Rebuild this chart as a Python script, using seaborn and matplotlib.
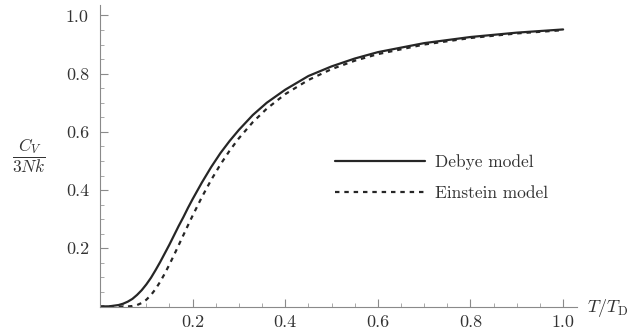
import matplotlib
matplotlib.use("Agg")
import matplotlib.pyplot as plt
from matplotlib.ticker import FixedLocator, MultipleLocator
import numpy as np
import pandas as pd
import seaborn as sns

# ---- data ----
T_ratio = [0.00, 0.02, 0.04, 0.05, 0.06, 0.07, 0.08, 0.09, 0.10, 0.11, 0.12,
           0.13, 0.14, 0.15, 0.16, 0.17, 0.18, 0.19, 0.20, 0.22, 0.24, 0.26,
           0.28, 0.30, 0.33, 0.36, 0.40, 0.45, 0.50, 0.55, 0.60, 0.70, 0.80,
           0.90, 1.00]
debye = [0.0, 0.0006, 0.0050, 0.0097, 0.0167, 0.0262, 0.0398, 0.0560, 0.0758,
         0.0985, 0.125, 0.153, 0.183, 0.213, 0.245, 0.277, 0.307, 0.339, 0.369,
         0.426, 0.479, 0.527, 0.569, 0.607, 0.658, 0.700, 0.745, 0.792, 0.825,
         0.852, 0.874, 0.905, 0.926, 0.941, 0.952]
einstein = [0.0, 0.0, 0.0, 0.00003, 0.0003, 0.0016, 0.0050, 0.0119, 0.0232,
            0.0393, 0.0601, 0.0851, 0.1136, 0.1446, 0.1774, 0.2111, 0.2451,
            0.2791, 0.3123, 0.3760, 0.4347, 0.4879, 0.5357, 0.5783, 0.6335,
            0.6796, 0.7298, 0.7783, 0.8157, 0.8445, 0.8672, 0.9002, 0.9226,
            0.9383, 0.9495]
models = ["Debye model", "Einstein model"]
tick_values = [0.2, 0.4, 0.6, 0.8, 1.0]
tick_labels = ["0.2", "0.4", "0.6", "0.8", "1.0"]

df = pd.DataFrame({
    "T": T_ratio + T_ratio,
    "C": debye + einstein,
    "model": [models[0]] * len(T_ratio) + [models[1]] * len(T_ratio),
})

sns.set_style("white")
plt.rcParams["mathtext.fontset"] = "cm"
plt.rcParams["font.family"] = ["cmr10", "DejaVu Serif"]
plt.rcParams["axes.formatter.use_mathtext"] = True

W, H = 632, 331
fig = plt.figure(figsize=(W / 100, H / 100), dpi=100)
ax = fig.add_axes([100 / W, (H - 306.5) / H, 477 / W, 301.5 / H])

line_col = "#262626"
sns.lineplot(data=df, x="T", y="C", hue="model", style="model",
             palette={models[0]: line_col, models[1]: line_col},
             dashes={models[0]: "", models[1]: (2.0, 2.2)},
             linewidth=1.6, estimator=None, ax=ax)

ax.set_xlim(0, 1.03)
ax.set_ylim(0, 1.036)
ax.set_xlabel("")
ax.set_ylabel("")

for s in ["top", "right"]:
    ax.spines[s].set_visible(False)
for s in ["left", "bottom"]:
    ax.spines[s].set_color("#8a8a8a")
    ax.spines[s].set_linewidth(0.8)

ax.xaxis.set_major_locator(FixedLocator(tick_values))
ax.yaxis.set_major_locator(FixedLocator(tick_values))
ax.set_xticklabels(tick_labels)
ax.set_yticklabels(tick_labels)
ax.xaxis.set_minor_locator(MultipleLocator(0.05))
ax.yaxis.set_minor_locator(MultipleLocator(0.05))
ax.tick_params(which="major", direction="in", length=6, width=0.8,
               color="#8a8a8a", labelsize=13, labelcolor="#333333")
ax.tick_params(axis="x", which="major", pad=6)
ax.tick_params(axis="y", which="major", pad=8)
ax.tick_params(which="minor", direction="in", length=3, width=0.6,
               color="#9a9a9a")
ax.tick_params(bottom=True, left=True, which="both")

leg = ax.legend(frameon=False, loc="upper left",
                bbox_to_anchor=(335 / W, 1 - 154 / H),
                bbox_transform=fig.transFigure,
                borderpad=0, borderaxespad=0, handlelength=5.2,
                handletextpad=0.55, labelspacing=0.9,
                prop={"family": "cmr10", "size": 12.5})
for t in leg.get_texts():
    t.set_color("#333333")

fig.text(28.5 / W, 1 - 156 / H, r"$\dfrac{C_V}{3Nk}$", ha="center",
         va="center", fontsize=12.5, color="#333333")
fig.text(587 / W, 1 - 308 / H, r"$T/T_{\rm D}$", ha="left", va="center",
         fontsize=13, color="#333333")

fig.savefig("out.png", dpi=100)
